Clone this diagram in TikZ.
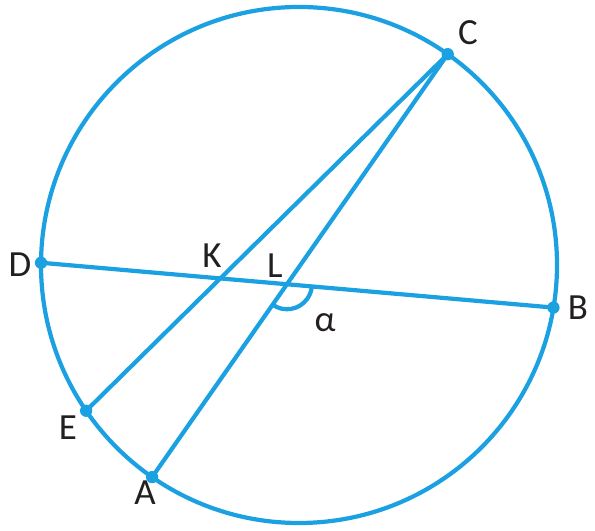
\documentclass[tikz,border=0pt]{standalone}
\usepackage{fontspec}
\setmainfont{Carlito}
\usetikzlibrary{angles,calc}
\definecolor{geo}{RGB}{27,161,226}
\definecolor{lbl}{RGB}{35,31,32}
\tikzset{
  geoline/.style={draw=geo, line width=2.4pt},
  ptdot/.style={circle, fill=geo, inner sep=0pt, minimum size=7pt},
  ptlabel/.style={text=lbl, font=\fontsize{21}{24}\selectfont, inner sep=0pt}
}
\begin{document}
\begin{tikzpicture}
\useasboundingbox (0,0) rectangle (11.9,10.6);
\coordinate (O) at (5.98,5.30);
\def\R{5.16}
\draw[geoline] (O) circle[radius=\R];
\coordinate (C) at ($(O)+(54.8:\R)$);
\coordinate (D) at ($(O)+(179.5:\R)$);
\coordinate (B) at ($(O)+(-9.5:\R)$);
\coordinate (E) at ($(O)+(214.4:\R)$);
\coordinate (A) at ($(O)+(235.3:\R)$);
\coordinate (K) at (intersection of C--E and D--B);
\coordinate (L) at (intersection of C--A and D--B);
\draw[geoline] (D) -- (B);
\draw[geoline] (C) -- (E);
\draw[geoline] (C) -- (A);
\pic[draw=geo, line width=2.4pt, angle radius=0.5cm] {angle = A--L--B};
\foreach \p in {C,D,B,E,A} \node[ptdot] (dot\p) at (\p) {};
\node[ptlabel] (lC) at (9.36,9.94) {C};
\node[ptlabel] (lD) at (0.40,5.30) {D};
\node[ptlabel] (lB) at (11.56,4.44) {B};
\node[ptlabel] (lK) at (4.24,5.48) {K};
\node[ptlabel] (lL) at (5.50,5.28) {L};
\node[ptlabel] (lal) at (6.50,4.14) {α};
\node[ptlabel] (lE) at (1.36,2.04) {E};
\node[ptlabel] (lA) at (2.90,0.74) {A};
\end{tikzpicture}
\end{document}
